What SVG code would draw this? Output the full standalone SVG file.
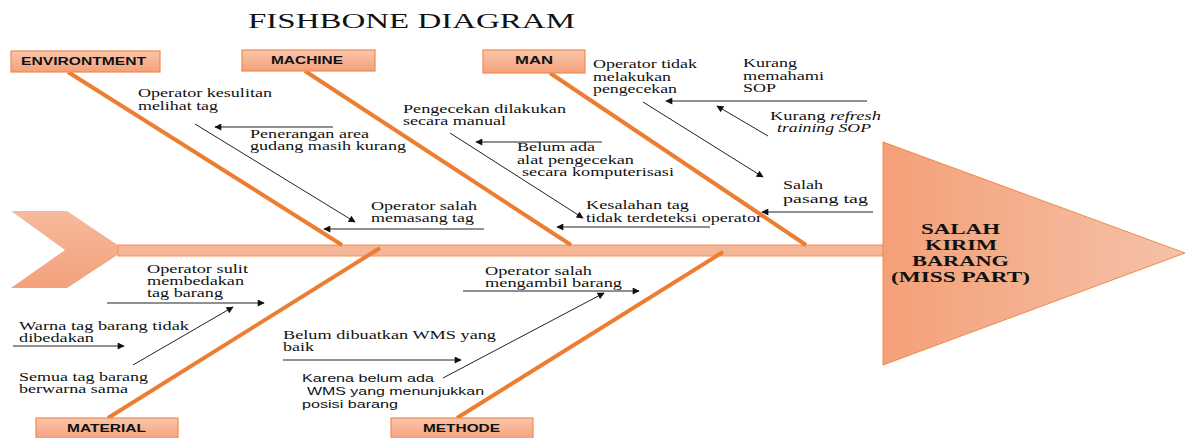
<svg xmlns="http://www.w3.org/2000/svg" width="1185" height="438" viewBox="0 0 1185 438">
<defs>
<linearGradient id="boxg" x1="0" y1="0" x2="0" y2="1">
<stop offset="0" stop-color="#F9C6AC"/>
<stop offset="1" stop-color="#F4A07A"/>
</linearGradient>
<linearGradient id="headg" x1="0" y1="0" x2="1" y2="0">
<stop offset="0" stop-color="#F4A079"/>
<stop offset="1" stop-color="#F5C2A8"/>
</linearGradient>
<linearGradient id="tailg" x1="0" y1="0" x2="0" y2="1">
<stop offset="0" stop-color="#F6BA9C"/>
<stop offset="1" stop-color="#F3A17C"/>
</linearGradient>
<marker id="ah" viewBox="0 0 10 10" refX="9" refY="5" markerWidth="9" markerHeight="7" markerUnits="userSpaceOnUse" orient="auto">
<path d="M0,0 L10,5 L0,10 z" fill="#111"/>
</marker>
<style>
.box{fill:url(#boxg);stroke:#F08A4B;stroke-width:1.2}
.bone{stroke:#ED7D31;stroke-width:4;fill:none}
.blab{font-family:"Liberation Sans",Arial,sans-serif;font-weight:bold;font-size:11px;fill:#111}
.t{font-family:"Liberation Serif","Times New Roman",serif;font-size:13px;fill:#111}
.s{font-family:"Liberation Sans",Arial,sans-serif;font-size:11px;fill:#111}
.h{font-family:"Liberation Serif","Times New Roman",serif;font-weight:bold;font-size:14.5px;fill:#111}
.ar{stroke:#222;stroke-width:1;fill:none;marker-end:url(#ah)}
</style>
</defs>
<rect width="1185" height="438" fill="#fff"/>
<text id="title" x="248" y="28" font-family="'Liberation Serif','Times New Roman',serif" font-size="20" fill="#111" textLength="327" lengthAdjust="spacingAndGlyphs">FISHBONE DIAGRAM</text>

<g id="tail">
<polygon points="11,211 67,211 125,250 67,288 11,288 65,250" fill="url(#tailg)"/>
</g>
<g id="spine">
<rect x="118" y="245" width="766" height="11" fill="#F5B597" stroke="#F0915A" stroke-width="1"/>
</g>
<g id="head">
<polygon points="883,142 1185,253 883,365" fill="url(#headg)" stroke="#F08A4B" stroke-width="1"/>
<text class="h" x="921" y="234" textLength="79" lengthAdjust="spacingAndGlyphs">SALAH</text>
<text class="h" x="925" y="250" textLength="72" lengthAdjust="spacingAndGlyphs">KIRIM</text>
<text class="h" x="912" y="266" textLength="97" lengthAdjust="spacingAndGlyphs">BARANG</text>
<text class="h" x="891" y="282" textLength="139" lengthAdjust="spacingAndGlyphs">(MISS PART)</text>
</g>

<g id="environment">
<line class="bone" x1="68" y1="72" x2="342" y2="245"/>
<rect class="box" x="11" y="51" width="149" height="21"/>
<text class="blab" x="21" y="64.5" textLength="125" lengthAdjust="spacingAndGlyphs">ENVIRONTMENT</text>
<text class="t" x="138" y="97" textLength="134" lengthAdjust="spacingAndGlyphs">Operator kesulitan</text>
<text class="t" x="138" y="110" textLength="80" lengthAdjust="spacingAndGlyphs">melihat tag</text>
<text class="t" x="250" y="138" textLength="119" lengthAdjust="spacingAndGlyphs">Penerangan area</text>
<text class="t" x="250" y="150" textLength="156" lengthAdjust="spacingAndGlyphs">gudang masih kurang</text>
<text class="t" x="371" y="210" textLength="106" lengthAdjust="spacingAndGlyphs">Operator salah</text>
<text class="t" x="371" y="222" textLength="103" lengthAdjust="spacingAndGlyphs">memasang tag</text>
</g>

<g id="machine">
<line class="bone" x1="305" y1="71" x2="571" y2="245"/>
<rect class="box" x="242" y="50" width="133" height="21"/>
<text class="blab" x="271" y="63.5" textLength="72" lengthAdjust="spacingAndGlyphs">MACHINE</text>
<text class="t" x="403" y="113" textLength="163" lengthAdjust="spacingAndGlyphs">Pengecekan dilakukan</text>
<text class="t" x="403" y="125" textLength="103" lengthAdjust="spacingAndGlyphs">secara manual</text>
<text class="t" x="517" y="151" textLength="78" lengthAdjust="spacingAndGlyphs">Belum ada</text>
<text class="t" x="517" y="164" textLength="117" lengthAdjust="spacingAndGlyphs">alat pengecekan</text>
<text class="t" x="522" y="176" textLength="152" lengthAdjust="spacingAndGlyphs">secara komputerisasi</text>
<text class="t" x="586" y="209" textLength="103" lengthAdjust="spacingAndGlyphs">Kesalahan tag</text>
<text class="t" x="586" y="222" textLength="176" lengthAdjust="spacingAndGlyphs">tidak terdeteksi operator</text>
</g>

<g id="man">
<line class="bone" x1="550" y1="73" x2="806" y2="245"/>
<rect class="box" x="483" y="50" width="102" height="23"/>
<text class="blab" x="515" y="63.5" textLength="38" lengthAdjust="spacingAndGlyphs">MAN</text>
<text class="t" x="593" y="68" textLength="104" lengthAdjust="spacingAndGlyphs">Operator tidak</text>
<text class="t" x="593" y="81" textLength="78" lengthAdjust="spacingAndGlyphs">melakukan</text>
<text class="t" x="593" y="93" textLength="84" lengthAdjust="spacingAndGlyphs">pengecekan</text>
<text class="t" x="743" y="67" textLength="54" lengthAdjust="spacingAndGlyphs">Kurang</text>
<text class="t" x="743" y="80" textLength="81" lengthAdjust="spacingAndGlyphs">memahami</text>
<text class="t" x="743" y="92" textLength="33" lengthAdjust="spacingAndGlyphs">SOP</text>
<text class="t" x="770" y="120" textLength="111" lengthAdjust="spacingAndGlyphs">Kurang <tspan font-style="italic">refresh</tspan></text>
<text class="t" x="777" y="132" textLength="94" lengthAdjust="spacingAndGlyphs" font-style="italic">training SOP</text>
<text class="t" x="783" y="189" textLength="40" lengthAdjust="spacingAndGlyphs">Salah</text>
<text class="t" x="783" y="203" textLength="85" lengthAdjust="spacingAndGlyphs">pasang tag</text>
</g>

<g id="material">
<line class="bone" x1="108" y1="418" x2="380" y2="248"/>
<rect class="box" x="36" y="418" width="142" height="22"/>
<text class="blab" x="67" y="431.5" textLength="79" lengthAdjust="spacingAndGlyphs">MATERIAL</text>
<text class="t" x="147" y="273" textLength="101" lengthAdjust="spacingAndGlyphs">Operator sulit</text>
<text class="t" x="147" y="285" textLength="97" lengthAdjust="spacingAndGlyphs">membedakan</text>
<text class="t" x="147" y="297" textLength="76" lengthAdjust="spacingAndGlyphs">tag barang</text>
<text class="t" x="19" y="330" textLength="170" lengthAdjust="spacingAndGlyphs">Warna tag barang tidak</text>
<text class="t" x="19" y="342" textLength="75" lengthAdjust="spacingAndGlyphs">dibedakan</text>
<text class="t" x="19" y="381" textLength="129" lengthAdjust="spacingAndGlyphs">Semua tag barang</text>
<text class="t" x="19" y="393" textLength="109" lengthAdjust="spacingAndGlyphs">berwarna sama</text>
</g>

<g id="methode">
<line class="bone" x1="457" y1="418" x2="723" y2="252"/>
<rect class="box" x="391" y="418" width="142" height="22"/>
<text class="blab" x="423" y="432" textLength="77" lengthAdjust="spacingAndGlyphs">METHODE</text>
<text class="t" x="485" y="275" textLength="107" lengthAdjust="spacingAndGlyphs">Operator salah</text>
<text class="t" x="485" y="287" textLength="137" lengthAdjust="spacingAndGlyphs">mengambil barang</text>
<text class="t" x="283" y="339" textLength="213" lengthAdjust="spacingAndGlyphs">Belum dibuatkan WMS yang</text>
<text class="t" x="283" y="351" textLength="31" lengthAdjust="spacingAndGlyphs">baik</text>
<text class="s" x="302" y="382" textLength="132" lengthAdjust="spacingAndGlyphs">Karena belum ada</text>
<text class="s" x="307" y="395" textLength="177" lengthAdjust="spacingAndGlyphs">WMS yang menunjukkan</text>
<text class="s" x="302" y="408" textLength="96" lengthAdjust="spacingAndGlyphs">posisi barang</text>
</g>

<g id="connectors">
<line class="ar" x1="195" y1="124" x2="355" y2="222"/>
<line class="ar" x1="333" y1="127" x2="215" y2="127"/>
<line class="ar" x1="484" y1="229" x2="324" y2="229"/>
<line class="ar" x1="450" y1="133" x2="583" y2="218"/>
<line class="ar" x1="602" y1="142" x2="476" y2="142"/>
<line class="ar" x1="710" y1="227" x2="557" y2="227"/>
<line class="ar" x1="643" y1="102" x2="763" y2="177"/>
<line class="ar" x1="867" y1="101" x2="666" y2="101"/>
<line class="ar" x1="768" y1="136" x2="717" y2="106"/>
<line class="ar" x1="873" y1="212" x2="762" y2="212"/>
<line class="ar" x1="107" y1="303" x2="264" y2="303"/>
<line class="ar" x1="133" y1="365" x2="233" y2="307"/>
<line class="ar" x1="13" y1="346" x2="124" y2="346"/>
<line class="ar" x1="463" y1="291" x2="639" y2="291"/>
<line class="ar" x1="443" y1="378" x2="604" y2="293"/>
<line class="ar" x1="283" y1="360" x2="461" y2="360"/>
</g>
</svg>
